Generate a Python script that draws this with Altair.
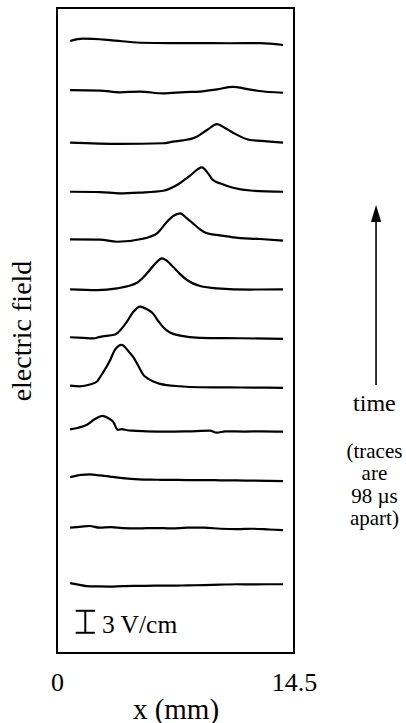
import altair as alt
import pandas as pd

# Electric-field traces along the channel: x in mm, E in V/cm relative to each
# trace's own baseline. Listed from the earliest trace (bottom) to the latest (top);
# consecutive traces are 98 µs apart.
x01 = [0.80, 1.30, 1.80, 2.50, 3.20, 4.00, 5.00, 6.00, 7.00, 8.00, 9.00, 10.00, 11.00, 12.00, 13.00, 13.83]
e01 = [0.25, 0.05, -0.15, -0.20, -0.22, -0.15, -0.12, -0.10, -0.10, -0.05, -0.02, 0.05, 0.10, 0.08, 0.10, 0.10]

x02 = [0.80, 1.50, 2.00, 2.60, 3.30, 4.00, 5.00, 6.00, 7.00, 8.00, 9.00, 10.00, 11.00, 12.00, 13.00, 13.83]
e02 = [0.05, 0.20, 0.28, 0.05, 0.12, 0.00, -0.05, 0.00, -0.05, 0.05, 0.05, -0.10, -0.15, -0.10, -0.20, -0.28]

x03 = [0.80, 1.50, 2.00, 2.60, 3.30, 4.00, 5.00, 6.00, 7.00, 8.00, 9.00, 10.00, 11.00, 12.00, 13.00, 13.83]
e03 = [0.25, 0.55, 0.62, 0.50, 0.30, 0.12, -0.05, -0.10, -0.12, -0.15, -0.15, -0.18, -0.20, -0.22, -0.25, -0.28]

x04 = [0.80, 1.30, 1.80, 2.30, 2.78, 3.10, 3.43, 3.73, 3.95, 4.30, 4.65, 5.50, 6.73, 8.00, 9.36, 9.79, 10.30, 11.50, 12.50, 13.83]
e04 = [0.23, 0.45, 0.82, 1.60, 2.05, 1.80, 1.27, 0.14, 0.25, 0.10, 0.04, -0.05, -0.10, -0.05, 0.04, -0.23, -0.05, -0.08, -0.05, -0.10]

x05 = [0.80, 1.40, 2.02, 2.45, 2.63, 3.24, 3.55, 3.96, 4.36, 4.66, 4.97, 5.27, 5.60, 5.89, 6.30, 7.50, 8.75, 10.50, 12.00, 13.83]
e05 = [0.00, -0.10, 0.14, 0.55, 1.13, 3.41, 4.90, 5.55, 4.70, 3.90, 2.70, 1.50, 0.90, 0.55, 0.23, -0.10, -0.23, -0.25, -0.28, -0.31]

x06 = [0.80, 1.60, 2.22, 2.63, 3.55, 3.75, 4.26, 4.65, 5.08, 5.51, 5.89, 6.18, 6.50, 6.91, 7.53, 8.75, 11.20, 13.83]
e06 = [0.04, -0.05, -0.12, 0.10, 0.41, 0.72, 2.09, 3.45, 4.23, 3.86, 3.23, 2.30, 1.41, 0.68, 0.27, -0.04, -0.10, -0.18]

x07 = [0.80, 2.45, 3.67, 4.89, 5.51, 5.99, 6.42, 6.73, 7.10, 7.53, 7.95, 8.75, 9.79, 11.81, 13.83]
e07 = [0.03, -0.07, 0.16, 0.93, 2.21, 3.48, 4.26, 3.90, 3.11, 2.10, 1.30, 0.48, 0.16, 0.00, 0.03]

x08 = [0.80, 2.63, 3.67, 5.26, 5.69, 6.12, 6.73, 7.10, 7.53, 7.95, 8.32, 8.75, 9.18, 9.97, 10.77, 12.42, 13.83]
e08 = [0.03, 0.00, -0.30, 0.11, 0.38, 0.85, 2.43, 3.20, 3.57, 2.90, 2.21, 1.40, 0.85, 0.57, 0.30, 0.07, -0.16]

x09 = [0.80, 2.63, 3.85, 5.08, 6.49, 7.34, 8.14, 8.87, 9.24, 9.54, 9.97, 10.77, 11.99, 13.83]
e09 = [-0.03, -0.07, -0.25, -0.14, 0.11, 0.89, 2.17, 3.30, 2.48, 1.57, 1.12, 0.52, 0.11, -0.03]

x10 = [0.80, 3.85, 6.49, 7.10, 7.71, 8.20, 8.55, 9.18, 9.79, 10.28, 10.77, 11.81, 12.85, 13.83]
e10 = [-0.03, -0.20, -0.10, 0.12, 0.30, 0.50, 0.79, 1.70, 2.50, 1.98, 1.34, 0.34, 0.16, -0.03]

x11 = [0.80, 2.63, 3.85, 5.08, 6.49, 7.83, 8.75, 9.79, 10.77, 11.50, 12.24, 13.83]
e11 = [0.20, 0.14, -0.11, 0.00, -0.25, -0.07, 0.00, 0.30, 0.65, 0.41, 0.11, -0.16]

x12 = [0.80, 1.59, 3.24, 5.08, 6.91, 8.75, 10.58, 12.42, 13.83]
e12 = [0.20, 0.52, 0.34, -0.03, -0.07, -0.07, -0.10, -0.07, -0.34]

# Vertical offset of each trace in the stacked display (V/cm above the frame floor)
trace_baseline = [9.28, 17.05, 23.74, 30.29, 36.49, 43.04, 49.59, 56.41, 62.96, 69.65, 76.60, 83.29]

# Scale bar: 3 V/cm
bar_x = 1.73
bar_cap = [1.14, 2.32]
bar_bottom = 2.76
bar_span = 3.0
bar_label = "3 V/cm"
bar_label_x = 2.75

# Time arrow and note beside the frame
arrow_x = 19.52
arrow_tail = 36.56
arrow_neck = 58.8
arrow_head = 59.95
note_x = 19.42
note_lines = ["time", "(traces", "are", "98 µs", "apart)"]
note_y = [32.95, 26.6, 23.6, 20.46, 17.46]
note_size = [24, 21, 21, 21, 21]

x_lists = [x01, x02, x03, x04, x05, x06, x07, x08, x09, x10, x11, x12]
e_lists = [e01, e02, e03, e04, e05, e06, e07, e08, e09, e10, e11, e12]

rows = []
for k, (xs, es) in enumerate(zip(x_lists, e_lists)):
    for xv, ev in zip(xs, es):
        rows.append({"trace": k, "x": xv, "E": ev, "base": trace_baseline[k]})
traces_df = pd.DataFrame(rows)

FONT = "Liberation Serif"
x_scale = alt.Scale(domain=[0, 14.5], nice=False, zero=False)
y_scale = alt.Scale(domain=[0, 88], nice=False, zero=False)

# One axis definition per channel, shared by every layer so they merge cleanly
x_axis = alt.Axis(
    values=[0, 14.5], labelExpr="'' + datum.value", title="x (mm)", ticks=False,
    domain=False, grid=False, labelFlush=False, labelFontSize=26, labelPadding=16,
    labelFont=FONT, labelColor="black", titleFontSize=29, titleFont=FONT,
    titleFontWeight="normal", titlePadding=0, titleColor="black",
)
y_axis = alt.Axis(
    title="electric field", labels=False, ticks=False, domain=False, grid=False,
    titleFontSize=28, titleFont=FONT, titleFontWeight="normal",
    titlePadding=21, titleColor="black",
)


def X(field):
    return alt.X(field, type="quantitative", scale=x_scale, axis=x_axis)


def Y(field):
    return alt.Y(field, type="quantitative", scale=y_scale, axis=y_axis)


traces = (
    alt.Chart(traces_df)
    .transform_calculate(plot_y="datum.base + datum.E")
    .mark_line(color="black", strokeWidth=2.2, interpolate="monotone")
    .encode(x=X("x"), y=Y("plot_y"), detail="trace:N")
)

bar_df = pd.DataFrame({"x": [bar_x], "y": [bar_bottom], "y2": [bar_bottom + bar_span]})
bar_stem = alt.Chart(bar_df).mark_rule(color="black", strokeWidth=2).encode(
    x=X("x"), y=Y("y"), y2="y2:Q"
)
caps_df = pd.DataFrame({
    "x": [bar_cap[0], bar_cap[0]],
    "x2": [bar_cap[1], bar_cap[1]],
    "y": [bar_bottom, bar_bottom + bar_span],
})
bar_caps = alt.Chart(caps_df).mark_rule(color="black", strokeWidth=2).encode(
    x=X("x"), x2="x2:Q", y=Y("y")
)
bar_text = alt.Chart(
    pd.DataFrame({"x": [bar_label_x], "y": [bar_bottom], "t": [bar_label]})
).mark_text(
    align="left", baseline="alphabetic", fontSize=25.5, font=FONT, color="black"
).encode(x=X("x"), y=Y("y"), text="t:N")

shaft = alt.Chart(
    pd.DataFrame({"x": [arrow_x], "y": [arrow_tail], "y2": [arrow_neck]})
).mark_rule(color="black", strokeWidth=1.6).encode(x=X("x"), y=Y("y"), y2="y2:Q")

head = alt.Chart(pd.DataFrame({"x": [arrow_x], "y": [arrow_head]})).mark_point(
    shape="M0,-1L0.6,1L-0.6,1Z", size=289, filled=True, color="black", opacity=1, strokeWidth=0
).encode(x=X("x"), y=Y("y"))

notes_df = pd.DataFrame({"x": [note_x] * len(note_lines), "y": note_y, "t": note_lines, "s": note_size})
notes = alt.Chart(notes_df).mark_text(
    align="center", baseline="alphabetic", font=FONT, color="black"
).encode(
    x=X("x"), y=Y("y"), text="t:N",
    size=alt.Size("s:Q", scale=None, legend=None),
)

chart = (
    alt.layer(traces, bar_stem, bar_caps, bar_text, shaft, head, notes)
    .properties(
        width=237,
        height=645,
        autosize=alt.AutoSizeParams(type="none"),
        padding={"left": 57, "top": 8, "right": 112, "bottom": 70},
    )
    .configure(
        font=FONT,
        background="white",
        view=alt.ViewConfig(stroke="black", strokeWidth=2),
    )
)

chart.save("out.html", embed_options={"renderer": "svg", "actions": False})
